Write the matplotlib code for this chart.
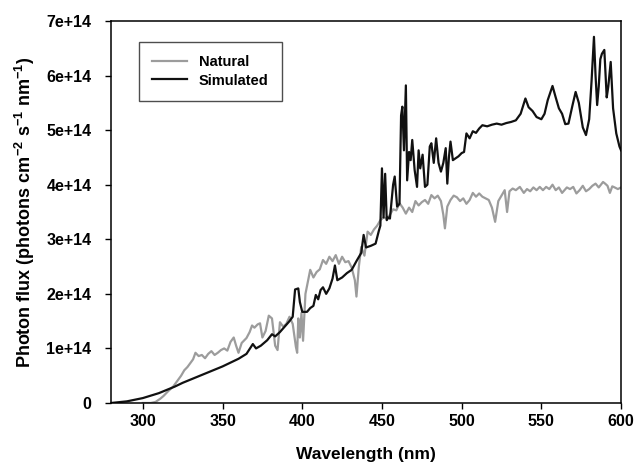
import matplotlib
matplotlib.use("Agg")
from matplotlib import pyplot as plt
from matplotlib.ticker import FixedLocator

plt.rcParams['font.family'] = ['Liberation Sans', 'DejaVu Sans']
plt.rcParams['font.weight'] = 'bold'
plt.rcParams['mathtext.fontset'] = 'custom'
plt.rcParams['mathtext.rm'] = 'Liberation Sans:bold'
plt.rcParams['mathtext.default'] = 'rm'

# photon flux values in units of 1e14 photons cm-2 s-1 nm-1
sim_wl = [280, 290, 300, 310, 315, 320, 325, 330, 336, 340, 345, 350, 355, 360, 365,
          369, 371, 374, 378, 381, 383, 386, 389, 392, 394, 395.5, 397.5, 398.5, 400,
          403, 405, 407, 408.5, 410, 411.5, 413, 415, 417, 419, 420.5, 422, 425, 428,
          431, 434, 437, 438.5, 440, 443, 446, 448, 449, 450, 451, 452, 453, 454, 455,
          456, 457, 458, 459.5, 461, 462, 462.8, 463.8, 465, 465.8, 467, 468, 469,
          470.5, 472, 473, 474, 475.5, 477, 478.5, 480, 481, 482.5, 484, 485.5, 487,
          488.5, 490, 491, 492, 493, 494.5, 496, 498, 500, 501.5, 503, 505, 507, 509,
          511, 513, 516, 519, 522, 525, 528, 531, 534, 537, 540, 542, 544.5, 547, 550,
          552, 554, 557, 559, 561, 563, 565, 567, 569.5, 571.5, 573.5, 576, 578, 580,
          581.5, 583, 584, 585, 586, 587, 588, 589.5, 591, 592, 593.5, 595, 597, 599, 600]
sim_flux = [0.0, 0.03, 0.09, 0.18, 0.24, 0.30, 0.37, 0.43, 0.50, 0.55, 0.61, 0.67, 0.74,
            0.81, 0.90, 1.08, 1.00, 1.05, 1.15, 1.26, 1.22, 1.30, 1.40, 1.50, 1.58, 2.08,
            2.10, 1.85, 1.67, 1.67, 1.74, 1.78, 1.98, 1.90, 2.07, 2.12, 2.00, 2.10, 2.28,
            2.52, 2.25, 2.30, 2.38, 2.44, 2.60, 2.75, 3.08, 2.85, 2.88, 2.92, 3.15, 3.25,
            4.30, 3.40, 4.20, 3.35, 3.40, 3.38, 3.70, 4.00, 4.15, 3.60, 3.65, 5.27, 5.43,
            4.63, 5.82, 4.08, 4.60, 4.45, 4.82, 4.27, 3.96, 4.63, 4.30, 4.55, 3.96, 4.00,
            4.70, 4.76, 4.40, 4.85, 4.40, 4.24, 4.40, 4.67, 4.02, 4.50, 4.79, 4.45, 4.48,
            4.52, 4.58, 4.60, 4.94, 4.85, 4.98, 4.95, 5.03, 5.09, 5.07, 5.10, 5.12, 5.10,
            5.13, 5.15, 5.18, 5.30, 5.58, 5.42, 5.35, 5.24, 5.20, 5.30, 5.55, 5.81, 5.60,
            5.40, 5.30, 5.11, 5.12, 5.45, 5.70, 5.50, 5.05, 4.91, 5.20, 5.90, 6.71, 6.00,
            5.46, 5.80, 6.30, 6.40, 6.47, 5.60, 5.80, 6.25, 5.40, 4.94, 4.70, 4.63]

nat_wl = [300, 305, 308, 311, 313, 316, 319, 322, 324, 326, 328, 330, 331.5, 333, 335,
          337, 339, 341, 343, 345, 347, 349, 351, 353, 355, 357, 358.5, 360, 362, 365,
          367, 368.5, 370, 372, 373.5, 375, 377, 379, 381, 383, 384.5, 386, 388, 390,
          392, 394, 396, 396.8, 397.5, 398.5, 399.5, 400.5, 402, 404, 405, 407, 409,
          411, 413, 415, 417, 419, 421, 423, 425, 427, 429, 431, 433, 434, 435.5, 437,
          439, 441, 443, 445, 447, 449, 451, 453, 455, 457, 459, 461, 463, 465, 467,
          469, 471, 473, 475, 477, 479, 481, 483, 485, 487, 488.5, 489.5, 491, 493, 495,
          497, 499, 501, 503, 505, 507, 509, 511, 513, 515, 517, 519, 521, 523, 525,
          527, 528.5, 530, 532, 534, 536.5, 539, 541, 543, 545, 547, 549, 551, 553, 555,
          557, 559, 561, 563, 566, 568, 570, 572, 574, 576, 578, 580, 582, 584, 586,
          588.7, 590, 591.5, 593, 594.5, 596, 598, 600]
nat_flux = [0.0, 0.0, 0.02, 0.08, 0.13, 0.22, 0.30, 0.42, 0.50, 0.60, 0.66, 0.74, 0.80,
            0.92, 0.86, 0.88, 0.82, 0.90, 0.95, 0.88, 0.92, 0.97, 1.00, 0.96, 1.12, 1.20,
            1.05, 0.92, 1.10, 1.19, 1.30, 1.42, 1.38, 1.44, 1.46, 1.20, 1.32, 1.60, 1.55,
            1.05, 0.97, 1.48, 1.40, 1.45, 1.58, 1.45, 1.03, 0.92, 1.55, 1.20, 1.65, 1.14,
            2.00, 2.30, 2.44, 2.30, 2.40, 2.45, 2.62, 2.55, 2.68, 2.60, 2.71, 2.55, 2.68,
            2.58, 2.60, 2.48, 2.25, 1.95, 2.50, 2.86, 2.70, 3.14, 3.08, 3.18, 3.25, 3.35,
            3.40, 3.38, 3.45, 3.55, 3.53, 3.66, 3.58, 3.47, 3.58, 3.50, 3.70, 3.62, 3.68,
            3.72, 3.65, 3.81, 3.75, 3.80, 3.70, 3.45, 3.20, 3.60, 3.72, 3.80, 3.77, 3.70,
            3.75, 3.65, 3.72, 3.85, 3.78, 3.84, 3.78, 3.75, 3.72, 3.58, 3.32, 3.70, 3.80,
            3.90, 3.50, 3.88, 3.93, 3.90, 3.96, 3.85, 3.92, 3.88, 3.95, 3.90, 3.96, 3.90,
            3.96, 3.92, 4.00, 3.90, 3.95, 3.85, 3.95, 3.92, 3.96, 3.84, 3.90, 3.98, 3.88,
            3.92, 3.98, 4.02, 3.95, 4.05, 4.02, 3.98, 3.85, 3.97, 3.95, 3.92, 3.95]

x_ticks = [300, 350, 400, 450, 500, 550, 600]
y_ticks = [0, 1e14, 2e14, 3e14, 4e14, 5e14, 6e14, 7e14]
y_tick_labels = ["0", "1e+14", "2e+14", "3e+14", "4e+14", "5e+14", "6e+14", "7e+14"]

fig = plt.figure(figsize=(6.36, 4.71), dpi=100)
ax = fig.add_axes([0.1745, 0.1444, 0.802, 0.811])

ax.plot(nat_wl, [v * 1e14 for v in nat_flux], color="#9c9c9c", lw=1.6,
        solid_joinstyle="round", label="Natural")
ax.plot(sim_wl, [v * 1e14 for v in sim_flux], color="#111111", lw=1.6,
        solid_joinstyle="round", label="Simulated")

ax.set_xlim(280, 600)
ax.set_ylim(0, 7e14)
ax.xaxis.set_major_locator(FixedLocator(x_ticks))
ax.set_yticks(y_ticks)
ax.set_yticklabels(y_tick_labels)
ax.tick_params(direction="out", length=4, width=1, labelsize=11.5, pad=4,
               top=False, right=False)
ax.tick_params(axis="y", pad=10)
for s in ax.spines.values():
    s.set_linewidth(1.1)

ax.set_xlabel("Wavelength (nm)", fontsize=12.5, fontweight="bold", labelpad=13)
ax.set_ylabel("Photon flux (photons cm$^{-2}$ s$^{-1}$ nm$^{-1}$)", fontsize=13,
              fontweight="bold", labelpad=7)

leg = ax.legend(loc="upper left", bbox_to_anchor=(0.055, 0.945), borderaxespad=0,
                fancybox=False, frameon=True, fontsize=10.5, handlelength=2.4,
                handletextpad=0.8, borderpad=0.9, labelspacing=0.3)
leg.get_frame().set_edgecolor("#222222")
leg.get_frame().set_linewidth(1.0)

fig.savefig("out.png", dpi=100)
